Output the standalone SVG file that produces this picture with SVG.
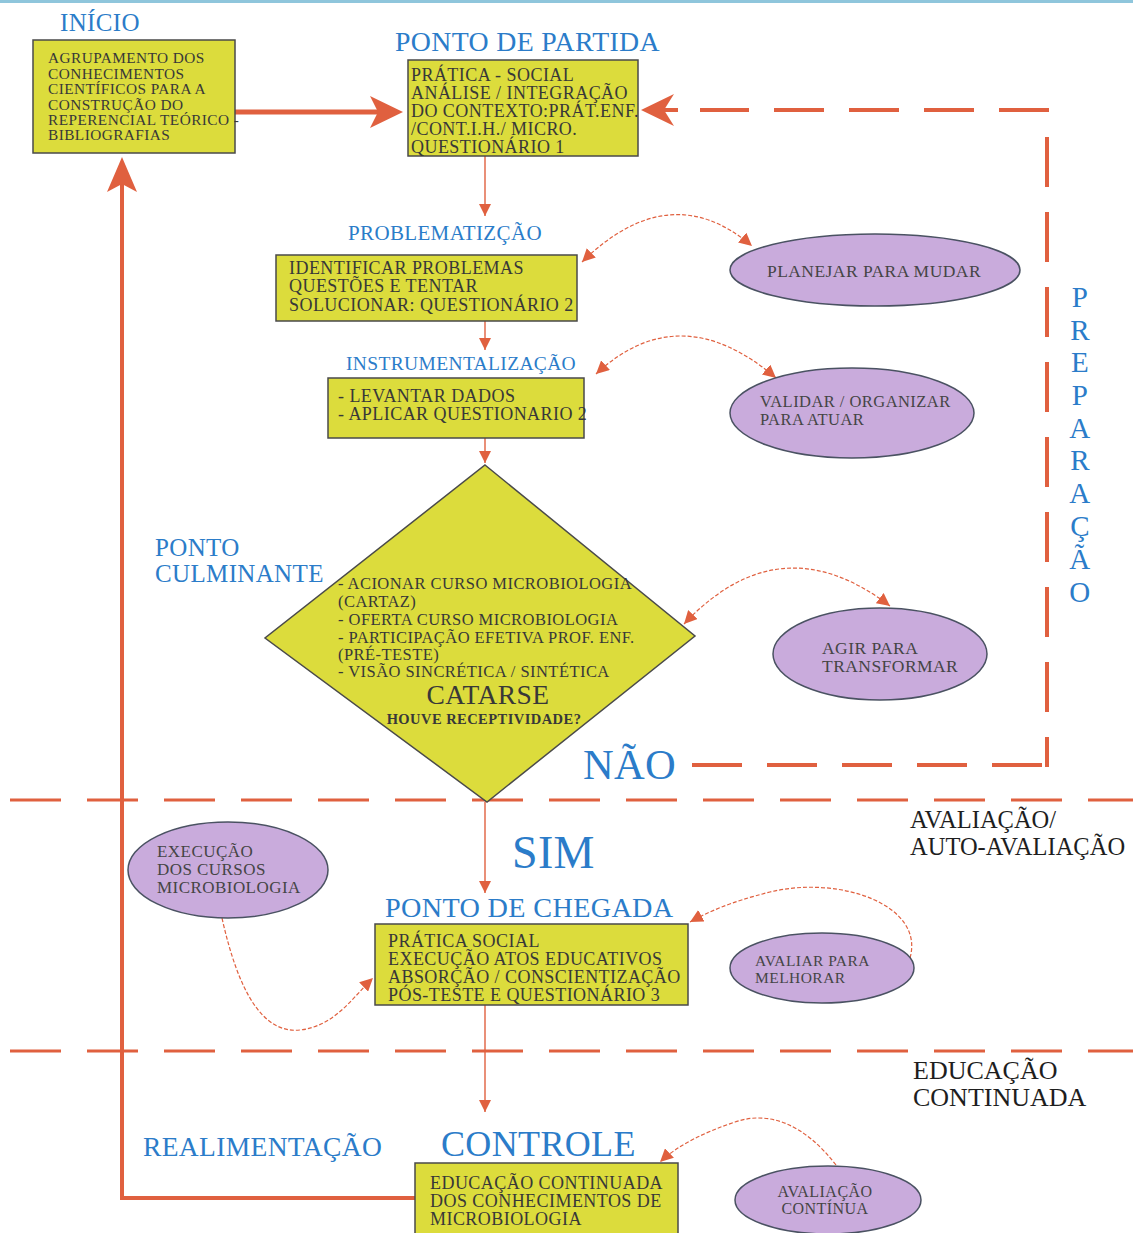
<svg xmlns="http://www.w3.org/2000/svg" width="1133" height="1233" viewBox="0 0 1133 1233">
<style>
.box{fill:#dcdc3c;stroke:#4a4a4a;stroke-width:1.5}
.ell{fill:#c9abdc;stroke:#4a5262;stroke-width:1.5}
.bt{font-family:"Liberation Serif",serif;fill:#383838;letter-spacing:0.45px}
.et{font-family:"Liberation Serif",serif;fill:#454545;letter-spacing:0.45px}
.lb{font-family:"Liberation Serif",serif;fill:#2b7cc9;letter-spacing:0.35px}
.bk{font-family:"Liberation Serif",serif;fill:#1e1e1e}
.thin{stroke:#e0603f;stroke-width:1.4;fill:none}
.dot{stroke:#e0603f;stroke-width:1.2;fill:none;stroke-dasharray:4 2}
.dash{stroke:#e0603f;stroke-width:3;fill:none;stroke-dasharray:51 26}
.dashb{stroke:#e0603f;stroke-width:4;fill:none;stroke-dasharray:50 25}
.thick{stroke:#e0603f;stroke-width:4;fill:none}
.head{fill:#e0603f}
</style>
<defs>
<marker id="ah" viewBox="0 0 10 10" refX="10" refY="5" markerWidth="12" markerHeight="13" markerUnits="userSpaceOnUse" orient="auto-start-reverse">
<path d="M0,0 L10,5 L0,10 z" fill="#e0603f"/>
</marker>
<marker id="ahs" viewBox="0 0 10 10" refX="10" refY="5" markerWidth="13" markerHeight="13" markerUnits="userSpaceOnUse" orient="auto-start-reverse">
<path d="M0,0 L10,5 L0,10 z" fill="#e0603f"/>
</marker>
</defs>
<rect x="0" y="0" width="1133" height="1233" fill="#ffffff"/>
<rect x="0" y="0" width="1133" height="3" fill="#8fc6dc"/>

<g id="connectors">
<!-- inicio to ponto de partida -->
<line class="thick" x1="235" y1="112" x2="378" y2="112" style="stroke-width:5"/>
<polygon class="head" points="403,112 370,96 378,112 370,128"/>
<!-- feedback -->
<polyline class="thick" points="415,1198 122,1198 122,180"/>
<polygon class="head" points="122,157 107,192 122,184 137,192"/>
<!-- NAO loop -->
<line class="dashb" x1="692" y1="765" x2="1047" y2="765"/>
<line class="dashb" x1="1047" y1="137" x2="1047" y2="767"/>
<line class="dashb" x1="1049" y1="110" x2="700" y2="110"/>
<line class="thick" x1="660" y1="110" x2="678" y2="110"/>
<polygon class="head" points="641,110 674,94 664,110 674,126"/>
<!-- vertical flow -->
<line class="thin" x1="485" y1="156" x2="485" y2="216" marker-end="url(#ah)"/>
<line class="thin" x1="485" y1="321" x2="485" y2="350" marker-end="url(#ah)"/>
<line class="thin" x1="485" y1="438" x2="485" y2="463" marker-end="url(#ah)"/>
<line class="thin" x1="485" y1="802" x2="485" y2="893" marker-end="url(#ah)"/>
<line class="thin" x1="485" y1="1005" x2="485" y2="1112" marker-end="url(#ah)"/>
<!-- double headed dotted curves -->
<path class="dot" d="M582,262 Q670,176 752,246" marker-start="url(#ahs)" marker-end="url(#ahs)"/>
<path class="dot" d="M596,374 Q680,296 776,378" marker-start="url(#ahs)" marker-end="url(#ahs)"/>
<path class="dot" d="M684,624 Q780,522 890,606" marker-start="url(#ahs)" marker-end="url(#ahs)"/>
<!-- single headed curves -->
<path class="dot" d="M222,918 C238,990 262,1034 300,1030 C335,1026 352,998 373,978" marker-end="url(#ahs)"/>
<path class="dot" d="M910,958 C925,905 840,875 770,892 C730,902 708,912 690,922" marker-end="url(#ahs)"/>
<path class="dot" d="M836,1165 C805,1125 770,1110 735,1122 C705,1132 678,1145 660,1162" marker-end="url(#ahs)"/>
<!-- page dashed separators -->
<line class="dash" x1="10" y1="800" x2="1133" y2="800"/>
<line class="dash" x1="10" y1="1051" x2="1133" y2="1051"/>
</g>

<g id="labels">
<text class="lb" x="60" y="31" font-size="25">INÍCIO</text>
<text class="lb" x="395" y="51" font-size="27.8">PONTO DE PARTIDA</text>
<text class="lb" x="348" y="240" font-size="21">PROBLEMATIZÇÃO</text>
<text class="lb" x="346" y="370" font-size="19.5">INSTRUMENTALIZAÇÃO</text>
<text class="lb" x="155" y="556" font-size="25">PONTO</text>
<text class="lb" x="155" y="582" font-size="25">CULMINANTE</text>
<text class="lb" x="583" y="779" font-size="42.5">NÃO</text>
<text class="lb" x="512" y="868" font-size="46">SIM</text>
<text class="lb" x="385" y="917" font-size="28.2">PONTO DE CHEGADA</text>
<text class="lb" x="143" y="1156" font-size="27.5">REALIMENTAÇÃO</text>
<text class="lb" x="441" y="1156" font-size="36">CONTROLE</text>
<g class="lb" font-size="29" text-anchor="middle">
<text x="1080" y="307">P</text>
<text x="1080" y="340">R</text>
<text x="1080" y="372">E</text>
<text x="1080" y="405">P</text>
<text x="1080" y="438">A</text>
<text x="1080" y="470">R</text>
<text x="1080" y="503">A</text>
<text x="1080" y="536">Ç</text>
<text x="1080" y="569">Ã</text>
<text x="1080" y="602">O</text>
</g>
<text class="bk" x="910" y="828" font-size="24.5">AVALIAÇÃO/</text>
<text class="bk" x="910" y="855" font-size="24.5">AUTO-AVALIAÇÃO</text>
<text class="bk" x="913" y="1079" font-size="26">EDUCAÇÃO</text>
<text class="bk" x="913" y="1106" font-size="26">CONTINUADA</text>
</g>

<g id="inicio">
<rect class="box" x="33" y="40" width="202" height="113"/>
<g class="bt" font-size="15.3">
<text x="48" y="63">AGRUPAMENTO DOS</text>
<text x="48" y="78.5">CONHECIMENTOS</text>
<text x="48" y="94">CIENTÍFICOS PARA A</text>
<text x="48" y="109.5">CONSTRUÇÃO DO</text>
<text x="48" y="125">REPERENCIAL TEÓRICO -</text>
<text x="48" y="140">BIBLIOGRAFIAS</text>
</g>
</g>

<g id="ponto-partida">
<rect class="box" x="408" y="60" width="230" height="96"/>
<g class="bt" font-size="18">
<text x="411" y="81">PRÁTICA - SOCIAL</text>
<text x="411" y="99">ANÁLISE / INTEGRAÇÃO</text>
<text x="411" y="117">DO CONTEXTO:PRÁT.ENF.</text>
<text x="411" y="135">/CONT.I.H./ MICRO.</text>
<text x="411" y="153">QUESTIONÁRIO 1</text>
</g>
</g>

<g id="problematizacao">
<rect class="box" x="276" y="255" width="301" height="66"/>
<g class="bt" font-size="18">
<text x="289" y="274">IDENTIFICAR PROBLEMAS</text>
<text x="289" y="292">QUESTÕES E TENTAR</text>
<text x="289" y="311">SOLUCIONAR: QUESTIONÁRIO 2</text>
</g>
</g>

<g id="instrumentalizacao">
<rect class="box" x="328" y="378" width="256" height="60"/>
<g class="bt" font-size="18">
<text x="338" y="402">- LEVANTAR DADOS</text>
<text x="338" y="420">- APLICAR QUESTIONARIO 2</text>
</g>
</g>

<g id="catarse">
<polygon class="box" points="485,465 695,636 487,802 265,638"/>
<g class="bt" font-size="16.5">
<text x="338" y="589">- ACIONAR CURSO MICROBIOLOGIA</text>
<text x="338" y="607">(CARTAZ)</text>
<text x="338" y="625">- OFERTA CURSO  MICROBIOLOGIA</text>
<text x="338" y="643">- PARTICIPAÇÃO EFETIVA PROF. ENF.</text>
<text x="338" y="660">(PRÉ-TESTE)</text>
<text x="338" y="677">- VISÃO SINCRÉTICA / SINTÉTICA</text>
</g>
<text class="bt" x="488" y="704" font-size="27.5" text-anchor="middle">CATARSE</text>
<text class="bt" x="484" y="724" font-size="14.5" font-weight="bold" text-anchor="middle">HOUVE RECEPTIVIDADE?</text>
</g>

<g id="planejar">
<ellipse class="ell" cx="875" cy="270" rx="145" ry="36"/>
<text class="et" x="874" y="277" font-size="17.5" text-anchor="middle">PLANEJAR PARA MUDAR</text>
</g>

<g id="validar">
<ellipse class="ell" cx="852" cy="413" rx="122" ry="45"/>
<text class="et" x="760" y="407" font-size="16.5">VALIDAR / ORGANIZAR</text>
<text class="et" x="760" y="425" font-size="16.5">PARA ATUAR</text>
</g>

<g id="agir">
<ellipse class="ell" cx="880" cy="654" rx="107" ry="46"/>
<text class="et" x="822" y="654" font-size="17.5">AGIR PARA</text>
<text class="et" x="822" y="672" font-size="17.5">TRANSFORMAR</text>
</g>

<g id="execucao">
<ellipse class="ell" cx="228" cy="870" rx="100" ry="48"/>
<g class="et" font-size="17">
<text x="157" y="857">EXECUÇÃO</text>
<text x="157" y="875">DOS CURSOS</text>
<text x="157" y="893">MICROBIOLOGIA</text>
</g>
</g>

<g id="ponto-chegada">
<rect class="box" x="375" y="924" width="313" height="81"/>
<g class="bt" font-size="18">
<text x="388" y="947">PRÁTICA SOCIAL</text>
<text x="388" y="965">EXECUÇÃO ATOS EDUCATIVOS</text>
<text x="388" y="983">ABSORÇÃO / CONSCIENTIZAÇÃO</text>
<text x="388" y="1001">PÓS-TESTE E QUESTIONÁRIO 3</text>
</g>
</g>

<g id="avaliar">
<ellipse class="ell" cx="822" cy="968" rx="92" ry="35"/>
<text class="et" x="755" y="966" font-size="15.5">AVALIAR PARA</text>
<text class="et" x="755" y="983" font-size="15.5">MELHORAR</text>
</g>

<g id="controle">
<rect class="box" x="415" y="1163" width="263" height="80"/>
<g class="bt" font-size="18">
<text x="430" y="1189">EDUCAÇÃO CONTINUADA</text>
<text x="430" y="1207">DOS CONHECIMENTOS DE</text>
<text x="430" y="1225">MICROBIOLOGIA</text>
</g>
</g>

<g id="avaliacao-continua">
<ellipse class="ell" cx="828" cy="1200" rx="93" ry="34"/>
<text class="et" x="825" y="1197" font-size="16" text-anchor="middle">AVALIAÇÃO</text>
<text class="et" x="825" y="1214" font-size="16" text-anchor="middle">CONTÍNUA</text>
</g>
</svg>
